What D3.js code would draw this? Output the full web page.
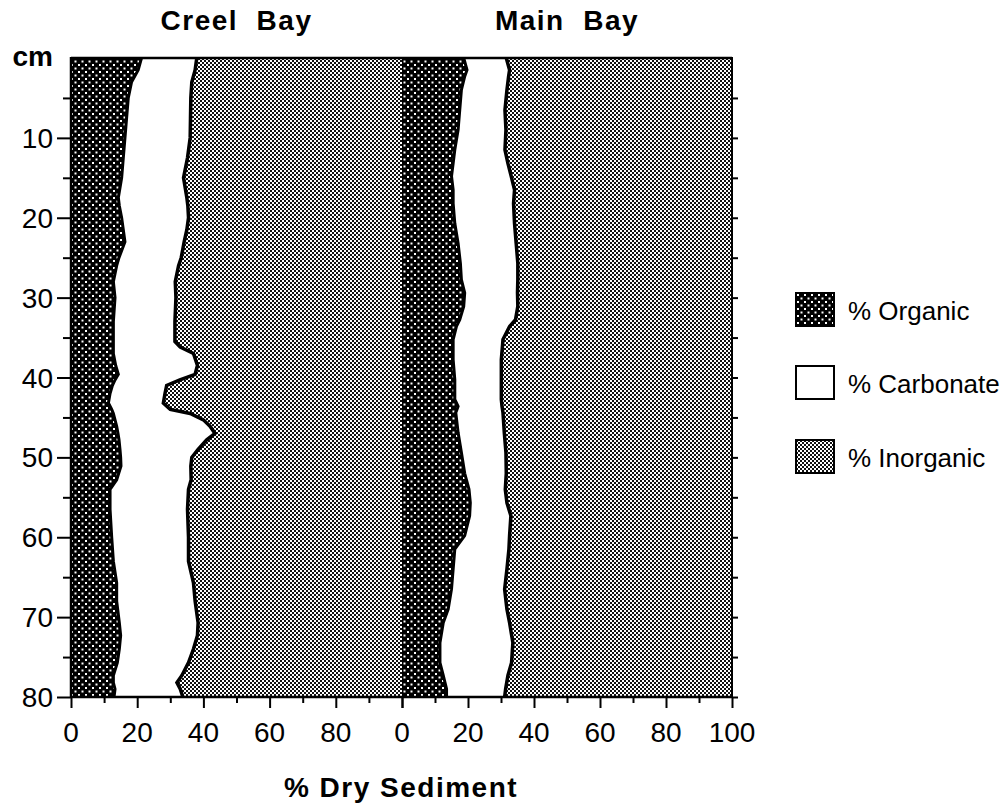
<!DOCTYPE html>
<html><head><meta charset="utf-8">
<script src="https://cdn.jsdelivr.net/npm/d3@7/dist/d3.min.js"></script>
<style>
html,body{margin:0;padding:0;background:#fff;}
text{font-family:"Liberation Sans",Arial,Helvetica,sans-serif;fill:#000;}
</style></head>
<body>
<svg id="chart" width="1005" height="808"></svg>
<script>
// ---- data (percent of dry sediment by depth, cm) ----
const sites = ["Creel Bay", "Main Bay"];
const creelDepth = [0,1.5,3,5,7.5,10,12.5,15,17.5,18.5,20,21.5,23,25,26,28,30,33,35.5,36.2,37,38.5,39.6,40.3,41,42,43.2,44,44.5,45.3,46.1,47,47.8,49,50,51.1,52.8,54,56.5,60,63,65.7,68,70.7,72.3,74,75.7,77.3,78.2,79,80];
const creelOrganic = [21.3,20.3,18.3,17.3,16.8,16.3,15.8,15.3,14.3,14.6,15.3,15.8,16.3,14.5,13.8,12.8,13.3,12.8,12.8,12.8,12.8,13.5,14.3,13.3,12.5,11.8,11.3,12.3,12.8,13.3,13.8,14.2,14.5,14.8,15,15.1,13.8,11.8,11.8,12.3,12.8,13.8,13.8,14.6,15,14.6,14,12.8,12.8,13.3,13];
const creelCarbonate = [16.7,17.2,18.2,18.9,19.3,19.7,19.4,18.7,20.7,20.7,20.2,19.2,17.9,18.8,18.7,18.7,18.4,18.6,18.6,20.2,24.2,24.7,23.2,19.6,16.4,16.6,16.6,17.7,23.2,26.7,28.2,29.3,26.5,23.6,21.5,21.1,22.5,23.7,23.4,23.2,22.7,23.2,23.7,23.8,23.2,22.4,21.5,20.7,19.2,19.7,20.8];
const mainDepth = [0,1.5,2.3,4,6.5,9,11.5,13.2,14.8,16.5,18.2,20.7,23.2,25.7,27.75,29.4,31.1,32.75,33.6,35.25,37.75,40.25,42.75,43.6,44.4,46.9,49.4,52,54,55.7,57.3,59.8,61.5,64,66.5,69,70.7,73.2,75.7,77.3,79,80];
const mainOrganic = [18.7,19.7,19,18,17.5,17,16,15.5,15,15.5,15.5,16,17,17.7,18,19,18.7,17.5,16.5,15.5,15.5,16,16,17,16.3,17,18,19,20.3,20.7,20.5,19,16,15.5,15,14,12.5,11.5,11.5,12.5,13.5,13.5];
const mainCarbonate = [12.9,12.9,13.3,13.8,13.7,14.5,15.2,16.6,18.1,18.6,18.3,18.1,17.6,17.4,17.1,16,16.4,16.9,16.1,15.1,14.6,14.1,14.1,13.3,14.3,14,13.5,12.6,11,11.1,12.5,13.6,16.4,16.3,16.1,17.8,20.1,22.1,21.7,19.6,17.9,17.6];
const xTickValues = [0,20,40,60,80,100];
const xMinorValues = [10,30,50,70,90];
const yTickValues = [10,20,30,40,50,60,70,80];
const yMinorValues = [5,15,25,35,45,55,65,75];
const legendLabels = ["% Organic", "% Carbonate", "% Inorganic"];

// ---- build ----
const svg = d3.select("#chart");
const defs = svg.append("defs");

// organic: black with white dots
const pOrg = defs.append("pattern").attr("id","pOrg").attr("patternUnits","userSpaceOnUse")
  .attr("width",7).attr("height",7);
pOrg.append("rect").attr("width",7).attr("height",7).attr("fill","#000");
pOrg.append("rect").attr("x",1).attr("y",1).attr("width",2).attr("height",2).attr("fill","#fff");
pOrg.append("rect").attr("x",4.5).attr("y",4.5).attr("width",2).attr("height",2).attr("fill","#fff");
// inorganic: fine checker
const pInorg = defs.append("pattern").attr("id","pInorg").attr("patternUnits","userSpaceOnUse")
  .attr("width",4).attr("height",4);
pInorg.append("rect").attr("width",4).attr("height",4).attr("fill","#fff");
pInorg.append("rect").attr("x",0).attr("y",0).attr("width",2).attr("height",2).attr("fill","#111");
pInorg.append("rect").attr("x",2).attr("y",2).attr("width",2).attr("height",2).attr("fill","#111");

const y = d3.scaleLinear().domain([0,80]).range([58,697]);
const xs = [
  d3.scaleLinear().domain([0,100]).range([71,402]),
  d3.scaleLinear().domain([0,100]).range([402,732])
];
const siteData = [
  creelDepth.map((d,i)=>({depth:d, org:creelOrganic[i], carb:creelCarbonate[i]})),
  mainDepth.map((d,i)=>({depth:d, org:mainOrganic[i], carb:mainCarbonate[i]}))
];

siteData.forEach((data,k)=>{
  const x = xs[k];
  const g = svg.append("g");
  g.append("path").datum(data)
    .attr("d", d3.area().y(d=>y(d.depth)).x0(d=>x(d.org+d.carb)).x1(()=>x(100)))
    .attr("fill","url(#pInorg)");
  g.append("path").datum(data)
    .attr("d", d3.area().y(d=>y(d.depth)).x0(d=>x(d.org)).x1(d=>x(d.org+d.carb)))
    .attr("fill","#fff");
  g.append("path").datum(data)
    .attr("d", d3.area().y(d=>y(d.depth)).x0(()=>x(0)).x1(d=>x(d.org)))
    .attr("fill","url(#pOrg)");
  g.append("path").datum(data)
    .attr("d", d3.line().x(d=>x(d.org)).y(d=>y(d.depth)))
    .attr("fill","none").attr("stroke","#000").attr("stroke-width",3);
  g.append("path").datum(data)
    .attr("d", d3.line().x(d=>x(d.org+d.carb)).y(d=>y(d.depth)))
    .attr("fill","none").attr("stroke","#000").attr("stroke-width",3.5);
  svg.append("text").attr("x", x(50)).attr("y", 30).attr("text-anchor","middle")
    .style("font-size","28px").style("font-weight","bold").style("letter-spacing","1.5px")
    .style("white-space","pre").text(sites[k].replace(" ","  "));
  const ax = d3.axisBottom(x).tickValues(xTickValues).tickSize(11).tickFormat("");
  svg.append("g").attr("transform","translate(0,697)").call(ax)
    .call(s=>s.select(".domain").remove())
    .call(s=>s.selectAll("line").attr("stroke","#000").attr("stroke-width",2));
  const axm = d3.axisBottom(x).tickValues(xMinorValues).tickSize(6).tickFormat("");
  svg.append("g").attr("transform","translate(0,697)").call(axm)
    .call(s=>s.select(".domain").remove())
    .call(s=>s.selectAll("line").attr("stroke","#000").attr("stroke-width",2));
  const labs = k===0 ? xTickValues.slice(0,5) : xTickValues;
  svg.append("g").selectAll("text").data(labs).join("text")
    .attr("x", d=>x(d)).attr("y", 742).attr("text-anchor","middle")
    .style("font-size","28px").text(d=>d);
});

// frame
svg.append("line").attr("x1",71).attr("x2",732).attr("y1",58).attr("y2",58).attr("stroke","#000").attr("stroke-width",2.5);
svg.append("line").attr("x1",71).attr("x2",733).attr("y1",697).attr("y2",697).attr("stroke","#000").attr("stroke-width",2.5);
svg.append("line").attr("x1",71).attr("x2",71).attr("y1",57).attr("y2",698).attr("stroke","#000").attr("stroke-width",2.5);
svg.append("line").attr("x1",732).attr("x2",732).attr("y1",57).attr("y2",698).attr("stroke","#000").attr("stroke-width",2);

// y axis
const ay = d3.axisLeft(y).tickValues(yTickValues).tickSize(14).tickFormat("");
svg.append("g").attr("transform","translate(71,0)").call(ay)
  .call(s=>s.select(".domain").remove())
  .call(s=>s.selectAll("line").attr("stroke","#000").attr("stroke-width",2));
const aym = d3.axisLeft(y).tickValues(yMinorValues).tickSize(8).tickFormat("");
svg.append("g").attr("transform","translate(71,0)").call(aym)
  .call(s=>s.select(".domain").remove())
  .call(s=>s.selectAll("line").attr("stroke","#000").attr("stroke-width",2));
const ayr = d3.axisRight(y).tickValues(yTickValues.concat(yMinorValues)).tickSize(6).tickFormat("");
svg.append("g").attr("transform","translate(732,0)").call(ayr)
  .call(s=>s.select(".domain").remove())
  .call(s=>s.selectAll("line").attr("stroke","#000").attr("stroke-width",2));
svg.append("g").selectAll("text").data(yTickValues).join("text")
  .attr("x",53).attr("y",d=>y(d)+10).attr("text-anchor","end")
  .style("font-size","28px").text(d=>d);
svg.append("text").attr("x",53).attr("y",66).attr("text-anchor","end")
  .style("font-size","28px").style("font-weight","bold").text("cm");

// x title
svg.append("text").attr("x",401).attr("y",797).attr("text-anchor","middle")
  .style("font-size","28px").style("font-weight","bold").style("letter-spacing","1.5px")
  .text("% Dry Sediment");

// legend
const legFills = ["url(#pOrg)","#fff","url(#pInorg)"];
const legY = [293,366,440];
const lg = svg.append("g").selectAll("g").data(legendLabels).join("g")
  .attr("transform",(d,i)=>`translate(796,${legY[i]})`);
lg.append("rect").attr("width",38).attr("height",33)
  .attr("fill",(d,i)=>legFills[i]).attr("stroke","#000").attr("stroke-width",2);
lg.append("text").attr("x",52).attr("y",27).style("font-size","26px").text(d=>d);
</script>
</body></html>
